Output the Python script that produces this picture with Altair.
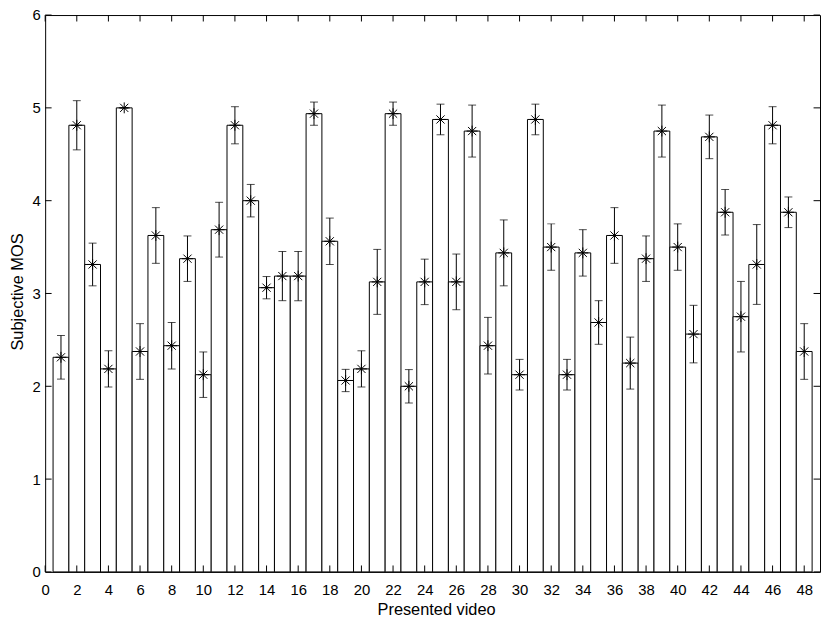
import altair as alt
import pandas as pd

videos = list(range(1, 49))
mos = [2.3125, 4.8125, 3.3125, 2.1875, 5.0, 2.375, 3.625, 2.4375, 3.375, 2.125,
       3.6875, 4.8125, 4.0, 3.0625, 3.1875, 3.1875, 4.9375, 3.5625, 2.0625, 2.1875,
       3.125, 4.9375, 2.0, 3.125, 4.875, 3.125, 4.75, 2.4375, 3.4375, 2.125,
       4.875, 3.5, 2.125, 3.4375, 2.6875, 3.625, 2.25, 3.375, 4.75, 3.5,
       2.5625, 4.6875, 3.875, 2.75, 3.3125, 4.8125, 3.875, 2.375]
err = [0.235, 0.265, 0.23, 0.195, 0.0, 0.30, 0.30, 0.25, 0.245, 0.245,
       0.295, 0.20, 0.175, 0.12, 0.265, 0.265, 0.125, 0.25, 0.12, 0.195,
       0.35, 0.125, 0.18, 0.245, 0.165, 0.30, 0.28, 0.305, 0.355, 0.165,
       0.165, 0.25, 0.165, 0.25, 0.235, 0.30, 0.28, 0.245, 0.28, 0.25,
       0.31, 0.235, 0.245, 0.38, 0.43, 0.20, 0.165, 0.30]
x_ticks = list(range(0, 49, 2))
y_ticks = [0, 1, 2, 3, 4, 5, 6]

df = pd.DataFrame({"video": videos, "mos": mos, "err": err})
df["x0"] = df["video"] - 0.5
df["x1"] = df["video"] + 0.5
df["lo"] = df["mos"] - df["err"]
df["hi"] = df["mos"] + df["err"]
df["base"] = 0.0

xt = pd.DataFrame({"t": x_ticks})
yt = pd.DataFrame({"t": y_ticks})

W, H = 782, 562
TL = 6.5
xs = alt.Scale(domain=[0, 49], nice=False, zero=False)
ys = alt.Scale(domain=[0, 6], nice=False)
x_axis = alt.Axis(values=x_ticks, title="Presented video", labelPadding=22.5,
                  labelBaseline="alphabetic", labelFlush=False,
                  titleX=W / 2 + 3.5, titleY=42.7, titleBaseline="alphabetic",
                  titleAlign="center")
y_axis = alt.Axis(values=y_ticks, title="Subjective MOS", labelPadding=5,
                  titleX=-22.5, titleY=H / 2 - 2, titleBaseline="alphabetic",
                  titleAngle=-90, titleAlign="center")

X = lambda f: alt.X(f, type="quantitative", scale=xs, axis=x_axis)
Y = lambda f: alt.Y(f, type="quantitative", scale=ys, axis=y_axis)

bars = alt.Chart(df).mark_rect(fill="white", stroke="black", strokeWidth=1).encode(
    x=X("x0"), x2="x1", y=Y("mos"), y2="base")

rules = alt.Chart(df).mark_rule(color="black", strokeWidth=1).encode(
    x=X("video"), y=Y("lo"), y2="hi")

cap_lo = alt.Chart(df).mark_tick(orient="horizontal", size=8, thickness=1, color="black").encode(
    x=X("video"), y=Y("lo"))
cap_hi = alt.Chart(df).mark_tick(orient="horizontal", size=8, thickness=1, color="black").encode(
    x=X("video"), y=Y("hi"))

star = "M-1,0L1,0M0,-1L0,1M-0.75,-0.75L0.75,0.75M-0.75,0.75L0.75,-0.75"
marks = alt.Chart(df).mark_point(shape=star, size=121, filled=False, stroke="black",
                                 strokeWidth=1, opacity=1).encode(
    x=X("video"), y=Y("mos"))

tb = alt.Chart(xt).mark_rule(color="black", strokeWidth=1).encode(
    x=X("t"), y=alt.value(H), y2=alt.value(H - TL))
tt = alt.Chart(xt).mark_rule(color="black", strokeWidth=1).encode(
    x=X("t"), y=alt.value(0), y2=alt.value(TL))
tl = alt.Chart(yt).mark_rule(color="black", strokeWidth=1).encode(
    y=Y("t"), x=alt.value(0), x2=alt.value(TL))
tr = alt.Chart(yt).mark_rule(color="black", strokeWidth=1).encode(
    y=Y("t"), x=alt.value(W), x2=alt.value(W - TL))

chart = alt.layer(bars, rules, cap_lo, cap_hi, marks, tb, tt, tl, tr).properties(
    width=W, height=H,
    autosize=alt.AutoSizeParams(type="none"),
    padding={"left": 37.5, "top": 4.3, "right": 2, "bottom": 45},
).configure_view(stroke="black", strokeWidth=1).configure_axis(
    domain=False, ticks=False, tickSize=0, grid=False,
    labelFont="Liberation Sans", labelFontSize=15, labelColor="black",
    titleFont="Liberation Sans", titleFontSize=16.5, titleFontWeight="normal", titleColor="black",
)

chart.save("out.html", embed_options={"renderer": "svg", "actions": False})
